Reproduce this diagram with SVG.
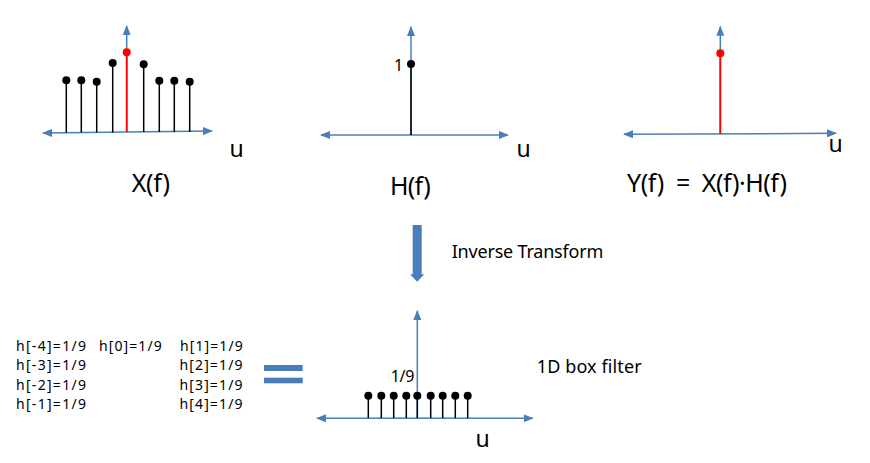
<svg xmlns="http://www.w3.org/2000/svg" width="870" height="463" viewBox="0 0 870 463">
  <style>
    .axis { stroke: #4a7ebb; stroke-width: 1.5; fill: none; }
    .stem { stroke: #000; stroke-width: 1.5; }
    .rstem { stroke: #ff0000; stroke-width: 1.8; }
    .dot { fill: #000; }
    .rdot { fill: #ff0000; }
    text { font-family: "Noto Sans", "Noto Sans CJK KR", sans-serif; fill: #000; }
    .big { font-size: 25px; }
    .u { font-size: 23px; }
    .mid { font-size: 18px; }
    .sm { font-size: 16px; }
    .co { font-size: 14px; }
  </style>
  <defs>
    <marker id="ah" viewBox="0 0 10 8" refX="9" refY="4" markerWidth="10" markerHeight="8" markerUnits="userSpaceOnUse" orient="auto-start-reverse">
      <path d="M0,0 L10,4 L0,8 z" fill="#4a7ebb"/>
    </marker>
  </defs>
  <rect width="870" height="463" fill="#fff"/>

  <g id="connectors">
    <line class="axis" x1="43" y1="133" x2="212" y2="131" marker-start="url(#ah)" marker-end="url(#ah)"/>
    <line class="axis" x1="126.7" y1="132" x2="126.7" y2="26" marker-end="url(#ah)"/>
    <line class="axis" x1="321" y1="135" x2="508" y2="135" marker-start="url(#ah)" marker-end="url(#ah)"/>
    <line class="axis" x1="411" y1="135" x2="411" y2="27" marker-end="url(#ah)"/>
    <line class="axis" x1="624" y1="134.3" x2="836" y2="133.3" marker-start="url(#ah)" marker-end="url(#ah)"/>
    <line class="axis" x1="720.3" y1="134" x2="720.3" y2="26.7" marker-end="url(#ah)"/>
    <line class="axis" x1="317" y1="418.3" x2="532.7" y2="418.3" marker-start="url(#ah)" marker-end="url(#ah)"/>
    <line class="axis" x1="417.3" y1="418.3" x2="417.3" y2="311" marker-end="url(#ah)"/>
  </g>

  <g id="node-Xf">
    <line class="stem" x1="66.3" y1="132.5" x2="66.3" y2="80.3"/>
    <line class="stem" x1="81.3" y1="132.5" x2="81.3" y2="80.3"/>
    <line class="stem" x1="96.7" y1="132.5" x2="96.7" y2="81.7"/>
    <line class="stem" x1="112.7" y1="132.5" x2="112.7" y2="63"/>
    <line class="rstem" x1="126.7" y1="132" x2="126.7" y2="52.3"/>
    <line class="stem" x1="143.7" y1="132" x2="143.7" y2="64.3"/>
    <line class="stem" x1="159.3" y1="132" x2="159.3" y2="80.7"/>
    <line class="stem" x1="174.3" y1="132" x2="174.3" y2="80.7"/>
    <line class="stem" x1="189.7" y1="132" x2="189.7" y2="81.7"/>
    <circle class="dot" cx="66.3" cy="80.3" r="4"/>
    <circle class="dot" cx="81.3" cy="80.3" r="4"/>
    <circle class="dot" cx="96.7" cy="81.7" r="4"/>
    <circle class="dot" cx="112.7" cy="63" r="4"/>
    <circle class="rdot" cx="126.7" cy="52.3" r="4"/>
    <circle class="dot" cx="143.7" cy="64.3" r="4"/>
    <circle class="dot" cx="159.3" cy="80.7" r="4"/>
    <circle class="dot" cx="174.3" cy="80.7" r="4"/>
    <circle class="dot" cx="189.7" cy="81.7" r="4"/>
    <text class="u" x="229.5" y="157">u</text>
    <text class="big" x="131.7" y="192" textLength="38.3">X(f)</text>
  </g>

  <g id="node-Hf">
    <line class="stem" x1="411" y1="135" x2="411" y2="64"/>
    <circle class="dot" cx="411" cy="64" r="4"/>
    <text class="sm" x="394" y="71">1</text>
    <text class="u" x="516.5" y="157">u</text>
    <text class="big" x="390" y="195" textLength="40.7">H(f)</text>
  </g>

  <g id="node-Yf">
    <line class="rstem" x1="720.3" y1="134" x2="720.3" y2="53.3"/>
    <circle class="rdot" cx="720.3" cy="53.3" r="4"/>
    <text class="u" x="828.5" y="152">u</text>
    <text class="big" x="627" y="192" textLength="160" xml:space="preserve">Y(f)  =  X(f)·H(f)</text>
  </g>

  <g id="node-inverse">
    <path d="M412.7,225 H421.7 V274.3 H424.3 L417.2,281.7 L410,274.3 H412.7 Z" fill="#4a7ebb"/>
    <text class="mid" x="451.7" y="258.3" textLength="151.6">Inverse Transform</text>
  </g>

  <g id="node-box">
    <line class="stem" x1="368.3" y1="418" x2="368.3" y2="395.7"/>
    <line class="stem" x1="381.3" y1="418" x2="381.3" y2="395.7"/>
    <line class="stem" x1="393.7" y1="418" x2="393.7" y2="395.7"/>
    <line class="stem" x1="406.3" y1="418" x2="406.3" y2="395.7"/>
    <line class="stem" x1="417.3" y1="418" x2="417.3" y2="395.7"/>
    <line class="stem" x1="430.7" y1="418" x2="430.7" y2="395.7"/>
    <line class="stem" x1="442.7" y1="418" x2="442.7" y2="395.7"/>
    <line class="stem" x1="455.3" y1="418" x2="455.3" y2="395.7"/>
    <line class="stem" x1="467.7" y1="418" x2="467.7" y2="395.7"/>
    <circle class="dot" cx="368.3" cy="395.7" r="4"/>
    <circle class="dot" cx="381.3" cy="395.7" r="4"/>
    <circle class="dot" cx="393.7" cy="395.7" r="4"/>
    <circle class="dot" cx="406.3" cy="395.7" r="4"/>
    <circle class="dot" cx="417.3" cy="395.7" r="4"/>
    <circle class="dot" cx="430.7" cy="395.7" r="4"/>
    <circle class="dot" cx="442.7" cy="395.7" r="4"/>
    <circle class="dot" cx="455.3" cy="395.7" r="4"/>
    <circle class="dot" cx="467.7" cy="395.7" r="4"/>
    <text class="sm" x="390.7" y="381.7" textLength="23.6">1/9</text>
    <text class="u" x="475.5" y="446.7">u</text>
    <text class="mid" x="536.7" y="373.3" textLength="105">1D box filter</text>
  </g>

  <g id="node-equals">
    <rect x="264" y="365" width="38.7" height="6" fill="#4a7ebb"/>
    <rect x="264" y="377.7" width="38.7" height="5.6" fill="#4a7ebb"/>
  </g>

  <g id="node-coeffs">
    <text class="co" x="16" y="351" textLength="70">h[-4]=1/9</text>
    <text class="co" x="16" y="370.3" textLength="70">h[-3]=1/9</text>
    <text class="co" x="16" y="389.6" textLength="70">h[-2]=1/9</text>
    <text class="co" x="16" y="409" textLength="70">h[-1]=1/9</text>
    <text class="co" x="99" y="351" textLength="62.7">h[0]=1/9</text>
    <text class="co" x="180" y="351" textLength="62.7">h[1]=1/9</text>
    <text class="co" x="179.5" y="370.3" textLength="63">h[2]=1/9</text>
    <text class="co" x="179.5" y="389.6" textLength="63">h[3]=1/9</text>
    <text class="co" x="179.5" y="409" textLength="63">h[4]=1/9</text>
  </g>
</svg>
